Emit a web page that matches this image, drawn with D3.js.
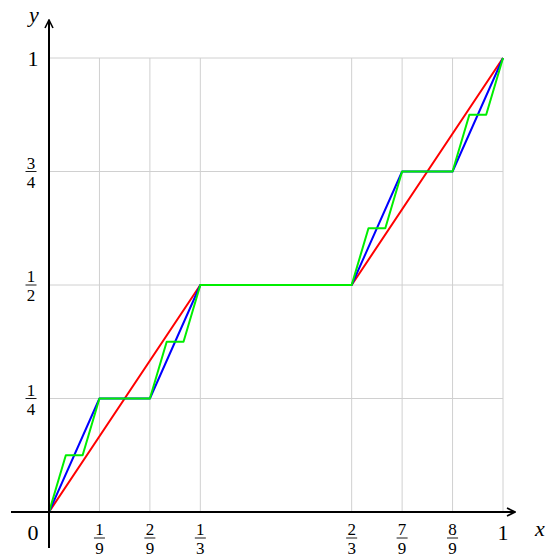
<!DOCTYPE html>
<html lang="en">
<head>
  <meta charset="UTF-8">
  <title>Cantor function</title>
  <script src="https://d3js.org/d3.v7.min.js"></script>
  <style>
    body { margin: 0; background: #fff; }
    text { font-family: "Liberation Serif", "DejaVu Serif", serif; fill: #000; }
    .grid line { stroke: #d0d0d0; stroke-width: 1px; }
  </style>
</head>
<body>
  <svg width="549" height="555"></svg>
  <script>
    // tick values and their fraction labels
    const xTicks = [1/9, 2/9, 1/3, 2/3, 7/9, 8/9];
    const xTickLabels = [["1","9"], ["2","9"], ["1","3"], ["2","3"], ["7","9"], ["8","9"]];
    const yTicks = [1/4, 1/2, 3/4];
    const yTickLabels = [["1","4"], ["1","2"], ["3","4"]];

    // three approximations of the Cantor function
    const redX = [0, 1/3, 2/3, 1];
    const redY = [0, 1/2, 1/2, 1];
    const blueX = [0, 1/9, 2/9, 1/3, 2/3, 7/9, 8/9, 1];
    const blueY = [0, 1/4, 1/4, 1/2, 1/2, 3/4, 3/4, 1];
    const greenX = [0, 1/27, 2/27, 3/27, 6/27, 7/27, 8/27, 9/27, 18/27, 19/27, 20/27, 21/27, 24/27, 25/27, 26/27, 1];
    const greenY = [0, 1/8, 1/8, 2/8, 2/8, 3/8, 3/8, 4/8, 4/8, 5/8, 5/8, 6/8, 6/8, 7/8, 7/8, 1];

    const svg = d3.select("svg");
    const x = d3.scaleLinear().domain([0, 1]).range([49, 503]);
    const y = d3.scaleLinear().domain([0, 1]).range([512, 58]);

    svg.append("defs").append("marker")
      .attr("id", "arrow")
      .attr("viewBox", "0 0 10 10")
      .attr("refX", 9).attr("refY", 5)
      .attr("markerWidth", 10).attr("markerHeight", 10)
      .attr("markerUnits", "userSpaceOnUse")
      .attr("orient", "auto")
      .append("path")
      .attr("d", "M1,1 L9,5 L1,9")
      .attr("fill", "none")
      .attr("stroke", "#000")
      .attr("stroke-width", 1.6);

    // grid
    const grid = svg.append("g").attr("class", "grid");
    grid.selectAll(".gx").data(xTicks.concat([1])).enter().append("line")
      .attr("x1", d => x(d)).attr("x2", d => x(d))
      .attr("y1", y(0)).attr("y2", y(1));
    grid.selectAll(".gy").data(yTicks.concat([1])).enter().append("line")
      .attr("x1", x(0)).attr("x2", x(1))
      .attr("y1", d => y(d)).attr("y2", d => y(d));

    // curves
    const line = d3.line().x(d => x(d[0])).y(d => y(d[1]));
    const series = [
      { xs: redX, ys: redY, color: "#ff0000" },
      { xs: blueX, ys: blueY, color: "#0000ff" },
      { xs: greenX, ys: greenY, color: "#00ee00" }
    ];
    series.forEach(s => {
      svg.append("path")
        .attr("d", line(d3.zip(s.xs, s.ys)))
        .attr("fill", "none")
        .attr("stroke", s.color)
        .attr("stroke-width", 2)
        .attr("stroke-linejoin", "round");
    });

    // axes
    svg.append("line")
      .attr("x1", 11).attr("x2", 515)
      .attr("y1", y(0)).attr("y2", y(0))
      .attr("stroke", "#000").attr("stroke-width", 2)
      .attr("marker-end", "url(#arrow)");
    svg.append("line")
      .attr("x1", x(0)).attr("x2", x(0))
      .attr("y1", 548).attr("y2", 20)
      .attr("stroke", "#000").attr("stroke-width", 2)
      .attr("marker-end", "url(#arrow)");

    // fraction label helper
    function fraction(g, cx, cy, num, den) {
      g.append("text").attr("x", cx).attr("y", cy - 3)
        .attr("text-anchor", "middle").attr("font-size", 17).text(num);
      g.append("line")
        .attr("x1", cx - 5.5).attr("x2", cx + 5.5)
        .attr("y1", cy).attr("y2", cy)
        .attr("stroke", "#000").attr("stroke-width", 0.9);
      g.append("text").attr("x", cx).attr("y", cy + 16)
        .attr("text-anchor", "middle").attr("font-size", 17).text(den);
    }

    const labels = svg.append("g");
    xTicks.forEach((t, i) => fraction(labels, x(t), 538, xTickLabels[i][0], xTickLabels[i][1]));
    yTicks.forEach((t, i) => fraction(labels, 31, y(t), yTickLabels[i][0], yTickLabels[i][1]));

    labels.append("text").attr("x", 33).attr("y", 540)
      .attr("text-anchor", "middle").attr("font-size", 22).text("0");
    labels.append("text").attr("x", x(1)).attr("y", 540)
      .attr("text-anchor", "middle").attr("font-size", 22).text("1");
    labels.append("text").attr("x", 33).attr("y", 66)
      .attr("text-anchor", "middle").attr("font-size", 22).text("1");
    labels.append("text").attr("x", 540).attr("y", 536)
      .attr("text-anchor", "middle").attr("font-size", 22)
      .attr("font-style", "italic").text("x");
    labels.append("text").attr("x", 34).attr("y", 22)
      .attr("text-anchor", "middle").attr("font-size", 22)
      .attr("font-style", "italic").text("y");
  </script>
</body>
</html>
